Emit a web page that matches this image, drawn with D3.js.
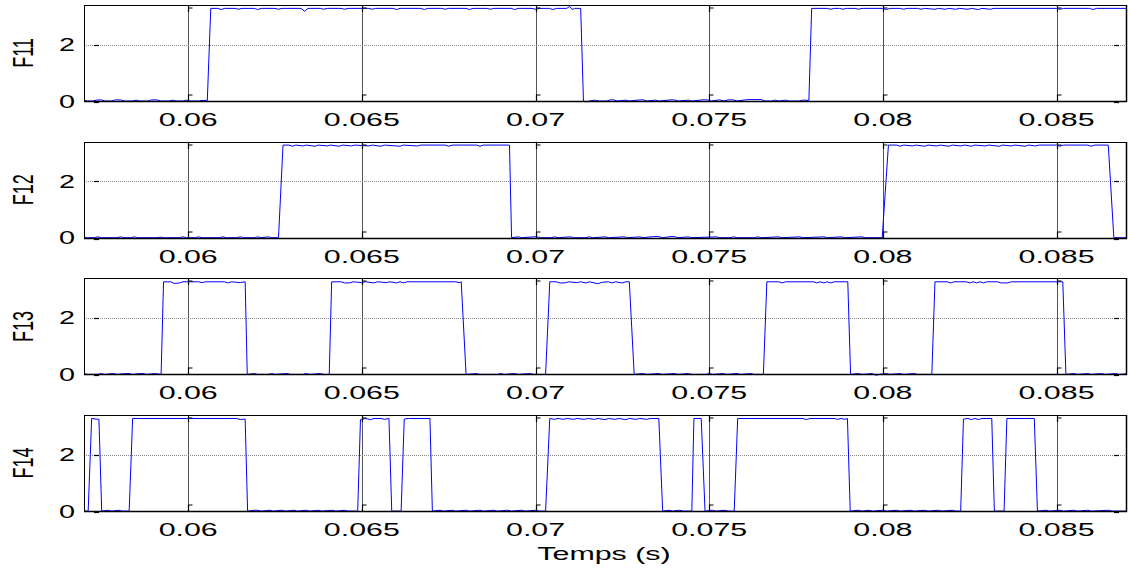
<!DOCTYPE html>
<html>
<head>
<meta charset="utf-8">
<script src="https://cdn.jsdelivr.net/npm/d3@7"></script>
<style>
  html, body { margin: 0; padding: 0; background: #fff; }
  svg { display: block; }
  text { font-family: "Liberation Sans", Arial, Helvetica, sans-serif; fill: #000; }
</style>
</head>
<body>
<svg id="chart" width="1131" height="571"></svg>
<script>
// Time axis (seconds) and value axis ticks
const xDomain = [0.057, 0.087];
const xTicks = [0.06, 0.065, 0.07, 0.075, 0.08, 0.085];
const xTickLabels = ["0.06", "0.065", "0.07", "0.075", "0.08", "0.085"];
const yDomain = [0, 3.4];
const yTicks = [0, 2];
const yTickLabels = ["0", "2"];
const seriesNames = ["F11", "F12", "F13", "F14"];
const xLabel = "Temps (s)";

// Gate signals: [time in ms, value]
const F11 = [
  [57.00,0.03],[57.10,0.00],[57.25,0.00],[57.35,0.03],[57.50,0.04],[57.60,0.00],[57.80,0.00],[57.90,0.04],[58.05,0.04],[58.15,0.00],
  [58.40,0.00],[58.50,0.03],[58.60,0.00],[58.85,0.00],[58.95,0.04],[59.10,0.04],[59.20,0.00],[59.45,0.00],[59.55,0.03],[59.65,0.00],
  [59.85,0.00],[59.95,0.03],[60.05,0.00],[60.30,0.00],[60.40,0.02],[60.55,0.02],
  [60.65,3.28],[60.85,3.28],[60.95,3.24],[61.05,3.28],[61.35,3.28],[61.45,3.25],[61.55,3.28],[61.90,3.28],[62.00,3.24],[62.10,3.28],
  [62.50,3.28],[62.60,3.25],[62.70,3.28],[63.25,3.28],[63.35,3.18],[63.45,3.28],[63.80,3.28],[63.90,3.25],[64.00,3.28],[64.40,3.28],
  [64.50,3.25],[64.60,3.28],[65.20,3.28],[65.30,3.25],[65.40,3.28],[65.90,3.28],[66.00,3.24],[66.10,3.28],[66.70,3.28],[66.80,3.24],
  [66.90,3.28],[67.30,3.28],[67.40,3.25],[67.50,3.28],[68.00,3.28],[68.10,3.24],[68.20,3.28],[68.60,3.28],[68.70,3.25],[68.80,3.28],
  [69.30,3.28],[69.40,3.24],[69.50,3.28],[69.90,3.28],[70.00,3.25],[70.10,3.28],[70.40,3.28],[70.50,3.24],[70.60,3.28],[70.90,3.28],
  [70.98,3.35],[71.05,3.24],[71.12,3.28],[71.30,3.28],
  [71.38,0.00],[71.45,-0.03],[71.55,0.00],[71.70,0.03],[71.80,0.00],[72.05,0.00],[72.15,0.04],[72.25,0.04],[72.35,0.00],[72.60,0.03],
  [72.70,0.00],[73.00,0.04],[73.10,0.04],[73.20,0.00],[73.45,0.03],[73.55,0.00],[73.90,0.04],[74.00,0.04],[74.10,0.00],[74.40,0.03],
  [74.50,0.00],[74.80,0.04],[74.95,0.04],[75.05,0.00],[75.30,0.04],[75.40,0.00],[75.55,0.04],[75.70,0.04],[75.80,0.00],[76.10,0.05],
  [76.50,0.05],[76.60,0.00],[76.80,0.00],[76.90,0.03],[77.00,0.00],[77.20,0.03],[77.30,0.00],[77.60,0.00],[77.70,0.03],[77.87,0.02],
  [77.95,3.28],[78.40,3.28],[78.50,3.25],[78.60,3.28],[78.75,3.28],[78.85,3.25],[78.95,3.28],[79.20,3.28],[79.30,3.25],[79.40,3.28],
  [80.00,3.28],[80.10,3.24],[80.20,3.28],[80.50,3.28],[80.60,3.25],[80.70,3.28],[81.00,3.28],[81.10,3.25],[81.20,3.28],[81.50,3.25],
  [81.60,3.28],[81.80,3.25],[81.90,3.28],[82.10,3.25],[82.20,3.28],[82.45,3.25],[82.55,3.28],[82.75,3.24],[82.85,3.28],[83.10,3.25],
  [83.20,3.28],[85.00,3.28],[85.10,3.25],[85.20,3.28],[85.95,3.28],[86.05,3.24],[86.15,3.28],[87.00,3.28]
];

const F12 = [
  [57.00,0.02],[57.10,0.00],[57.30,0.00],[57.40,0.03],[57.50,0.00],[57.95,0.00],[58.05,0.03],[58.15,0.00],[58.35,0.00],[58.45,0.03],
  [58.55,0.00],[59.10,0.00],[59.20,0.02],[59.30,0.00],[59.75,0.00],[59.85,0.03],[59.95,0.00],[60.20,0.00],[60.30,0.03],[60.40,0.00],
  [60.90,0.00],[61.00,0.03],[61.10,0.00],[61.40,0.00],[61.50,0.03],[61.60,0.00],[61.90,0.00],[62.00,0.03],[62.10,0.00],[62.30,0.03],
  [62.40,0.00],[62.60,0.00],
  [62.73,3.28],[62.90,3.28],[63.00,3.24],[63.10,3.28],[63.30,3.25],[63.40,3.28],[63.65,3.24],[63.75,3.28],[64.00,3.25],[64.10,3.28],
  [64.35,3.24],[64.45,3.28],[64.70,3.25],[64.80,3.28],[65.20,3.25],[65.30,3.28],[65.55,3.24],[65.65,3.28],[66.10,3.24],[66.20,3.28],
  [66.60,3.25],[66.70,3.28],[67.40,3.28],[67.50,3.24],[67.60,3.28],[68.30,3.28],[68.40,3.24],[68.50,3.28],[69.25,3.28],
  [69.31,0.00],[69.50,0.03],[69.60,0.00],[69.95,0.03],[70.05,0.03],[70.15,0.00],[70.45,0.00],[70.55,0.03],[70.65,0.00],[71.00,0.03],
  [71.10,0.00],[71.45,0.00],[71.55,0.03],[71.65,0.00],[72.00,0.03],[72.10,0.00],[72.55,0.03],[72.65,0.00],[73.00,0.03],[73.10,0.00],
  [73.40,0.04],[73.55,0.04],[73.65,0.00],[73.90,0.04],[74.00,0.04],[74.10,0.00],[74.40,0.03],[74.50,0.00],[75.20,0.03],[75.30,0.00],
  [75.60,0.00],[75.70,0.03],[75.80,0.00],[76.30,0.00],[76.40,0.03],[76.50,0.00],[77.00,0.03],[77.10,0.00],[77.60,0.03],[77.70,0.00],
  [78.30,0.03],[78.40,0.00],[78.80,0.03],[78.90,0.00],[79.40,0.03],[79.50,0.00],[79.98,0.00],
  [80.16,3.28],[80.40,3.28],[80.50,3.24],[80.60,3.28],[80.85,3.25],[80.95,3.28],[81.20,3.24],[81.30,3.28],[81.55,3.25],[81.65,3.28],
  [81.90,3.24],[82.00,3.28],[82.25,3.25],[82.35,3.28],[82.55,3.24],[82.65,3.28],[82.95,3.25],[83.05,3.28],[83.35,3.24],[83.45,3.28],
  [83.70,3.25],[83.80,3.28],[84.10,3.24],[84.20,3.28],[84.40,3.25],[84.50,3.28],[85.00,3.28],[85.10,3.24],[85.20,3.28],[85.90,3.28],
  [86.00,3.24],[86.10,3.28],[86.49,3.28],
  [86.65,0.00],[87.00,0.00]
];

const F13 = [
  [57.00,0.02],[57.10,0.00],[57.40,0.00],[57.50,0.03],[57.60,0.00],[57.85,0.03],[57.95,0.00],[58.20,0.03],[58.30,0.03],[58.40,0.00],
  [58.60,0.03],[58.70,0.03],[58.80,0.00],[59.05,0.03],[59.22,0.00],
  [59.29,3.28],[59.50,3.28],[59.60,3.22],[59.75,3.24],[59.85,3.28],[60.30,3.28],[60.40,3.25],[60.50,3.28],[61.05,3.28],[61.15,3.24],
  [61.25,3.28],[61.50,3.25],[61.64,3.28],
  [61.70,0.00],[61.90,0.03],[62.00,0.00],[62.30,0.00],[62.40,0.03],[62.50,0.00],[62.85,0.03],[62.95,0.00],[63.30,0.00],[63.40,0.03],
  [63.50,0.00],[63.80,0.03],[63.90,0.00],[64.06,0.00],
  [64.13,3.28],[64.40,3.28],[64.50,3.24],[64.65,3.24],[64.75,3.28],[65.00,3.25],[65.10,3.28],[65.35,3.24],[65.45,3.28],[65.70,3.25],
  [65.80,3.28],[66.00,3.24],[66.10,3.28],[66.20,3.24],[66.30,3.28],[67.70,3.28],[67.80,3.25],[67.86,3.28],
  [68.00,0.00],[68.30,0.03],[68.40,0.00],[68.90,0.00],[69.00,0.03],[69.10,0.00],[69.40,0.03],[69.50,0.00],[69.85,0.03],[69.95,0.00],
  [70.29,0.00],
  [70.41,3.28],[70.60,3.28],[70.70,3.24],[70.85,3.24],[70.95,3.28],[71.20,3.25],[71.30,3.28],[71.45,3.24],[71.55,3.28],[71.80,3.21],
  [71.90,3.26],[72.10,3.28],[72.20,3.24],[72.30,3.28],[72.50,3.24],[72.60,3.28],[72.70,3.28],
  [72.84,0.00],[73.10,0.03],[73.20,0.00],[73.55,0.03],[73.65,0.00],[74.00,0.03],[74.10,0.00],[74.40,0.03],[74.50,0.00],[74.90,0.00],
  [75.00,0.03],[75.10,0.00],[75.40,0.03],[75.50,0.00],[75.80,0.03],[75.90,0.00],[76.20,0.03],[76.30,0.00],[76.56,0.00],
  [76.66,3.28],[77.00,3.28],[77.10,3.24],[77.20,3.28],[78.00,3.28],[78.10,3.24],[78.20,3.28],[78.30,3.24],[78.40,3.28],[78.50,3.24],
  [78.60,3.28],[78.99,3.28],
  [79.07,0.00],[79.30,0.03],[79.40,0.00],[79.70,0.03],[79.80,-0.03],[79.90,0.00],[80.10,0.03],[80.20,0.00],[80.50,0.03],[80.60,0.00],
  [80.90,0.03],[81.00,0.00],[81.41,0.00],
  [81.50,3.28],[81.85,3.28],[81.95,3.24],[82.05,3.28],[82.40,3.28],[82.50,3.24],[82.60,3.28],[82.70,3.24],[82.80,3.28],[82.90,3.24],
  [83.00,3.28],[83.30,3.28],[83.40,3.24],[83.60,3.24],[83.70,3.28],[85.18,3.28],
  [85.27,0.00],[85.50,0.03],[85.60,0.00],[85.90,0.03],[86.00,0.00],[86.30,0.03],[86.40,0.00],[86.70,0.03],[86.80,0.00],[87.00,0.02]
];

const F14 = [
  [57.00,0.00],[57.12,0.00],[57.22,3.28],[57.43,3.25],[57.51,0.00],[57.70,0.03],[57.80,0.00],[58.00,0.03],[58.10,0.00],[58.30,0.00],
  [58.40,3.28],[61.40,3.28],[61.50,3.24],[61.64,3.26],
  [61.71,0.00],[61.90,0.03],[62.00,0.03],[62.10,0.00],[62.35,0.03],[62.45,0.00],[62.70,0.03],[62.80,0.00],[63.05,0.03],[63.15,0.00],
  [63.40,0.03],[63.50,0.00],[63.75,0.03],[63.85,0.00],[64.15,0.03],[64.25,0.00],[64.50,0.03],[64.60,0.00],[64.88,0.00],
  [64.96,3.24],[65.10,3.28],[65.25,3.24],[65.35,3.28],[65.55,3.28],[65.65,3.25],[65.78,3.28],
  [65.86,0.00],[66.13,0.00],[66.22,3.26],[66.35,3.28],[66.96,3.28],
  [67.03,0.00],[67.25,0.03],[67.35,0.00],[67.60,0.03],[67.70,0.00],[68.00,0.03],[68.10,0.00],[68.40,0.03],[68.50,0.00],[68.80,0.03],
  [68.90,0.00],[69.20,0.03],[69.30,0.00],[69.60,0.03],[69.70,0.00],[70.00,0.03],[70.10,0.00],[70.29,0.00],
  [70.41,3.28],[70.55,3.25],[70.65,3.28],[70.80,3.25],[70.90,3.28],[71.10,3.25],[71.20,3.28],[71.40,3.25],[71.50,3.28],[71.70,3.25],
  [71.80,3.28],[72.00,3.24],[72.10,3.28],[72.30,3.25],[72.40,3.28],[72.60,3.24],[72.70,3.28],[72.90,3.25],[73.00,3.28],[73.20,3.25],
  [73.30,3.28],[73.55,3.28],
  [73.66,0.00],[73.85,0.03],[73.95,0.00],[74.15,0.03],[74.25,0.00],[74.50,0.00],[74.56,3.28],[74.77,3.28],[74.88,0.00],[75.10,0.03],
  [75.20,0.00],[75.45,0.03],[75.55,0.00],[75.72,0.00],
  [75.82,3.28],[77.70,3.28],[77.80,3.24],[77.90,3.28],[78.60,3.28],[78.70,3.25],[78.80,3.28],[78.90,3.25],[78.98,3.28],
  [79.06,0.00],[79.30,0.03],[79.40,0.00],[79.60,0.03],[79.70,0.00],[80.00,0.03],[80.10,0.00],[80.40,0.03],[80.50,0.00],[80.80,0.03],
  [80.90,0.00],[81.20,0.03],[81.30,0.00],[81.60,0.03],[81.70,0.00],[82.00,0.03],[82.10,0.00],[82.24,0.00],
  [82.32,3.26],[82.45,3.28],[82.55,3.24],[82.65,3.28],[82.75,3.24],[82.85,3.28],[83.135,3.28],
  [83.21,0.00],[83.49,0.00],[83.57,3.28],[84.36,3.28],
  [84.45,0.00],[84.70,0.03],[84.80,0.00],[85.10,0.03],[85.20,0.00],[85.50,0.03],[85.60,0.00],[85.90,0.03],[86.00,0.00],[86.50,0.03],
  [86.60,0.00],[87.00,0.00]
];

const seriesData = [F11, F12, F13, F14];

// Layout
const W = 1131, H = 571;
const plotLeft = 84, plotRight = 1126;
const panelTop0 = 5, panelStep = 136.7, panelH = 96;
const stretch = 1.6;   // horizontal text stretch
const tickFont = 19, yTickFont = 18, labelFont = 18;

const svg = d3.select("#chart");
svg.append("rect").attr("width", W).attr("height", H).attr("fill", "#fff");

const x = d3.scaleLinear().domain(xDomain).range([plotLeft, plotRight]);
const toSec = ms => ms * 1e-3;

seriesNames.forEach((name, i) => {
  const top = panelTop0 + i * panelStep;
  const bottom = top + panelH;
  const y = d3.scaleLinear().domain(yDomain).range([bottom, top]);
  const g = svg.append("g");

  // grid: vertical at x ticks, horizontal at y ticks
  g.selectAll("line.vgrid").data(xTicks).join("line")
    .attr("x1", d => Math.round(x(d)) + 0.5).attr("x2", d => Math.round(x(d)) + 0.5)
    .attr("y1", top).attr("y2", bottom)
    .attr("stroke", "#555").attr("stroke-width", 1);
  g.selectAll("line.hgrid").data(yTicks.filter(v => v > 0)).join("line")
    .attr("x1", plotLeft).attr("x2", plotRight)
    .attr("y1", d => Math.round(y(d)) + 0.5).attr("y2", d => Math.round(y(d)) + 0.5)
    .attr("stroke", "#8a8a8a").attr("stroke-width", 1).attr("stroke-dasharray", "1,1");

  // signal trace
  const line = d3.line().x(d => x(toSec(d[0]))).y(d => y(d[1]));
  g.append("path").datum(seriesData[i])
    .attr("d", line).attr("fill", "none")
    .attr("stroke", "#0000ff").attr("stroke-width", 1);

  // frame
  g.append("rect")
    .attr("x", plotLeft + 0.5).attr("y", Math.round(top) + 0.5)
    .attr("width", plotRight - plotLeft).attr("height", panelH)
    .attr("fill", "none").attr("stroke", "#000").attr("stroke-width", 1);
  g.append("line")
    .attr("x1", plotLeft).attr("x2", plotRight + 1)
    .attr("y1", Math.round(bottom) + 0.5).attr("y2", Math.round(bottom) + 0.5)
    .attr("stroke", "#000").attr("stroke-width", 1.5);
  g.append("line")
    .attr("x1", plotRight + 0.5).attr("x2", plotRight + 0.5)
    .attr("y1", Math.round(top)).attr("y2", Math.round(bottom) + 1)
    .attr("stroke", "#000").attr("stroke-width", 1.5);

  // x ticks (bottom and top, pointing inward)
  g.selectAll("path.xtb").data(xTicks).join("path")
    .attr("d", d => {
      const xx = Math.round(x(d)) + 0.5, b = Math.round(bottom);
      return `M${xx},${b} v-6 h4`;
    })
    .attr("fill", "none").attr("stroke", "#000").attr("stroke-width", 1.2);
  g.selectAll("path.xtt").data(xTicks).join("path")
    .attr("d", d => {
      const xx = Math.round(x(d)) + 0.5, t = Math.round(top) + 1;
      return `M${xx},${t} v6 M${xx},${t + 2} h4`;
    })
    .attr("fill", "none").attr("stroke", "#000").attr("stroke-width", 1.2);

  // y ticks (left and right, inward)
  g.selectAll("line.ytl").data(yTicks).join("line")
    .attr("x1", plotLeft + 10).attr("x2", plotLeft + 15)
    .attr("y1", d => Math.round(y(d)) + 0.5 + (d === 0 ? 1 : 0))
    .attr("y2", d => Math.round(y(d)) + 0.5 + (d === 0 ? 1 : 0))
    .attr("stroke", "#000").attr("stroke-width", 1.2);
  g.selectAll("line.ytr").data(yTicks).join("line")
    .attr("x1", plotRight - 12).attr("x2", plotRight - 7)
    .attr("y1", d => Math.round(y(d)) + 0.5 + (d === 0 ? 1 : 0))
    .attr("y2", d => Math.round(y(d)) + 0.5 + (d === 0 ? 1 : 0))
    .attr("stroke", "#000").attr("stroke-width", 1.2);

  // x tick labels
  g.selectAll("text.xl").data(xTicks).join("text")
    .attr("text-anchor", "middle").attr("font-size", tickFont)
    .attr("transform", d => `translate(${x(d)},${bottom + 25}) scale(${stretch},1)`)
    .text((d, k) => xTickLabels[k]);

  // y tick labels
  g.selectAll("text.yl").data(yTicks).join("text")
    .attr("text-anchor", "end").attr("font-size", yTickFont)
    .attr("transform", d => `translate(75,${y(d) + 6.5}) scale(${stretch},1)`)
    .text((d, k) => yTickLabels[k]);

  // series label
  g.append("text")
    .attr("text-anchor", "middle").attr("font-size", labelFont)
    .attr("transform", `translate(33,${(top + bottom) / 2}) scale(${stretch},1) rotate(-90)`)
    .text(name);
});

// x axis title
svg.append("text")
  .attr("text-anchor", "middle").attr("font-size", 19)
  .attr("transform", `translate(604,560) scale(${stretch},1)`)
  .text(xLabel);
</script>
</body>
</html>
